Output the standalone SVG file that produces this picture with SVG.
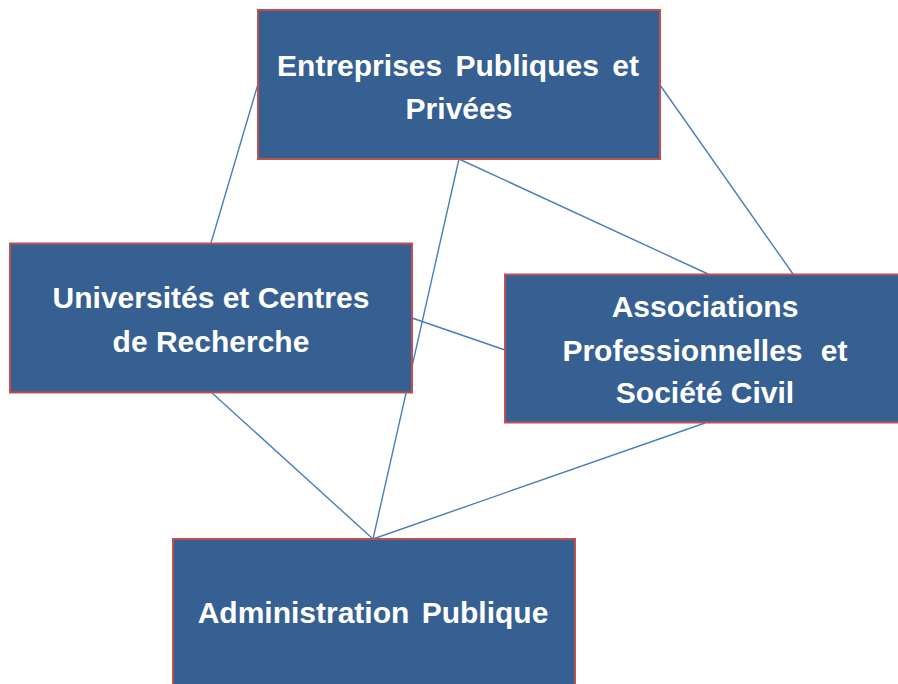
<svg xmlns="http://www.w3.org/2000/svg" width="898" height="684" viewBox="0 0 898 684">
<style>
.box{fill:#376092;stroke:#C0504D;stroke-width:2}
.lbl{font-family:"Liberation Sans",Arial,sans-serif;font-weight:bold;font-size:30px;fill:#FFFFFF;text-anchor:middle}
.conn line{stroke:#4A7EBB;stroke-width:1.4}
</style>
<rect width="898" height="684" fill="#FFFFFF"/>
<g id="connectors" class="conn">
<line x1="258" y1="84" x2="211" y2="243"/>
<line x1="660" y1="85" x2="793" y2="274"/>
<line x1="459" y1="159" x2="708" y2="274"/>
<line x1="459" y1="159" x2="373" y2="539"/>
<line x1="412" y1="318" x2="505" y2="350"/>
<line x1="211" y1="392" x2="373" y2="539"/>
<line x1="705" y1="423" x2="373" y2="539"/>
</g>
<g id="entreprises">
<rect class="box" x="258" y="10" width="402" height="149"/>
<text class="lbl" x="458" y="76" word-spacing="5">Entreprises Publiques et</text>
<text class="lbl" x="459" y="119">Privées</text>
</g>
<g id="universites">
<rect class="box" x="10" y="243.5" width="402" height="149"/>
<text class="lbl" x="211" y="308">Universités et Centres</text>
<text class="lbl" x="211" y="352">de Recherche</text>
</g>
<g id="associations">
<rect class="box" x="505" y="274.5" width="402" height="148"/>
<text class="lbl" x="705" y="317">Associations</text>
<text class="lbl" x="705" y="361" word-spacing="10">Professionnelles et</text>
<text class="lbl" x="705" y="403">Société Civil</text>
</g>
<g id="administration">
<rect class="box" x="173" y="539" width="402" height="160"/>
<text class="lbl" x="373" y="623" word-spacing="4">Administration Publique</text>
</g>
</svg>
